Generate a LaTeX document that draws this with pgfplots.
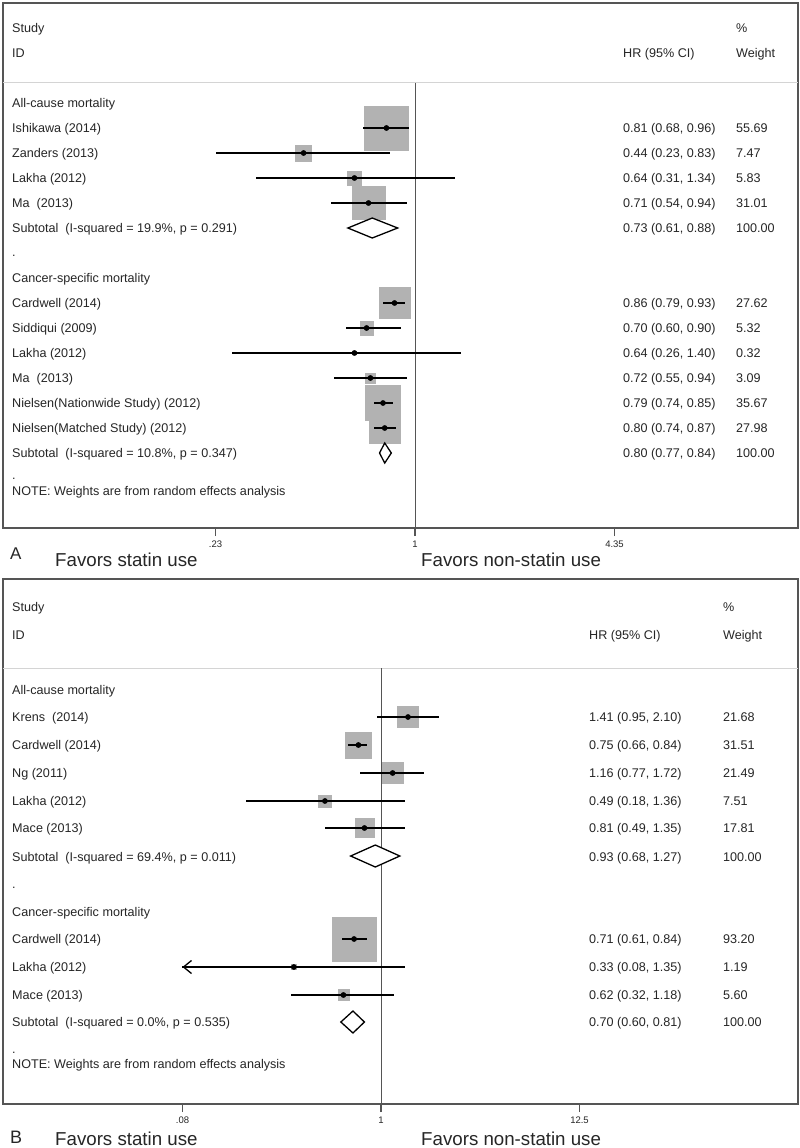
\documentclass[border=0pt]{standalone}
\usepackage{pgfplots}
\pgfplotsset{compat=1.18}
\usepackage{pgfplotstable}
\usepackage{fontspec}
\setmainfont{Liberation Sans}
\usetikzlibrary{arrows.meta}
\definecolor{boxgray}{RGB}{178,178,178}
\definecolor{frame}{RGB}{85,85,85}
\definecolor{sepgray}{RGB}{212,212,212}
\definecolor{txt}{RGB}{38,38,38}
\newcommand\fs{\fontsize{12.6}{15}\selectfont}
\newcommand\tickfont{\fontsize{9.5}{10}\selectfont}
\newcommand\bigfont{\fontsize{18.7}{22}\selectfont}
% text at pixel column x, baseline y
\newcommand\T[3]{\node[anchor=base west, inner sep=0pt, font=\fs, text=txt] at (#1pt,-#2pt) {#3};}

% Panel A: y (row position), HR, lower, upper, weight
\pgfplotstableread{
y hr lo hi w
-128 0.81 0.68 0.96 55.69
-153 0.44 0.23 0.83 7.47
-178 0.64 0.31 1.34 5.83
-203 0.71 0.54 0.94 31.01
-303 0.86 0.79 0.93 27.62
-328 0.70 0.60 0.90 5.32
-353 0.64 0.26 1.40 0.32
-378 0.72 0.55 0.94 3.09
-403 0.79 0.74 0.85 35.67
-428 0.80 0.74 0.87 27.98
}\studiesA

% Panel B
\pgfplotstableread{
y hr lo hi w
-717 1.41 0.95 2.10 21.68
-745 0.75 0.66 0.84 31.51
-773 1.16 0.77 1.72 21.49
-801 0.49 0.18 1.36 7.51
-828 0.81 0.49 1.35 17.81
-939 0.71 0.61 0.84 93.20
-967 0.33 0.08 1.35 1.19
-995 0.62 0.32 1.18 5.60
}\studiesB

\begin{document}
\begin{tikzpicture}
\useasboundingbox (0,0) rectangle (800pt,-1148pt);
\fill[white] (0,0) rectangle (800pt,-1148pt);

% ---------------- Panel A ----------------
\begin{axis}[at={(3pt,-3pt)}, anchor=north west,
  scale only axis, width=795pt, height=525pt,
  xmode=log, clip=false, clip marker paths=true,
  xmin=0.04802, xmax=16.817, ymin=-528, ymax=-3,
  axis line style={draw=frame, line width=1.3pt},
  ytick=\empty, minor xtick={},
  xtick pos=left, xtick align=outside, major tick length=8pt,
  every tick/.style={draw=frame, line width=1.2pt},
  xticklabel style={font=\tickfont, text=txt, yshift=-1pt},
  xtick={0.23,1,4.35}, xticklabels={.23,1,4.35}]
\addplot[sepgray, line width=1pt] coordinates {(0.04802,-83) (16.817,-83)};
\addplot[scatter, only marks, mark=square*,
  scatter/use mapped color={draw=boxgray, fill=boxgray},
  visualization depends on={2.95*sqrt(\thisrow{w}) \as \msize},
  scatter/@pre marker code/.append style={/tikz/mark size=\msize}]
  table[x=hr, y=y] {\studiesA};
\addplot[frame, line width=0.9pt] coordinates {(1,-83) (1,-528)};
\addplot[draw=none, mark=none, error bars/.cd, x dir=both, x explicit, error mark=none,
  error bar style={line width=1.3pt, black}]
  table[x=hr, y=y, x error minus expr=\thisrow{hr}-\thisrow{lo},
        x error plus expr=\thisrow{hi}-\thisrow{hr}] {\studiesA};
\addplot[only marks, mark=*, mark size=2.6pt, black] table[x=hr, y=y] {\studiesA};
\addplot[black, line width=1.3pt, fill=white] coordinates {(0.61,-228) (0.73,-218) (0.88,-228) (0.73,-238)} -- cycle;
\addplot[black, line width=1.3pt, fill=white] coordinates {(0.77,-453) (0.80,-443) (0.84,-453) (0.80,-463)} -- cycle;
\end{axis}

% ---------------- Panel B ----------------
\begin{axis}[at={(3pt,-579pt)}, anchor=north west,
  scale only axis, width=795pt, height=525pt,
  xmode=log, clip=false, clip marker paths=true,
  xmin=0.008154, xmax=201.40, ymin=-1104, ymax=-579,
  axis line style={draw=frame, line width=1.3pt},
  ytick=\empty, minor xtick={},
  xtick pos=left, xtick align=outside, major tick length=8pt,
  every tick/.style={draw=frame, line width=1.2pt},
  xticklabel style={font=\tickfont, text=txt, yshift=-1pt},
  xtick={0.08,1,12.5}, xticklabels={.08,1,12.5}]
\addplot[sepgray, line width=1pt] coordinates {(0.008154,-668) (201.40,-668)};
\addplot[scatter, only marks, mark=square*,
  scatter/use mapped color={draw=boxgray, fill=boxgray},
  visualization depends on={2.28*sqrt(\thisrow{w}) \as \msize},
  scatter/@pre marker code/.append style={/tikz/mark size=\msize}]
  table[x=hr, y=y] {\studiesB};
\addplot[frame, line width=0.9pt] coordinates {(1,-668) (1,-1104)};
\addplot[draw=none, mark=none, error bars/.cd, x dir=both, x explicit, error mark=none,
  error bar style={line width=1.3pt, black}]
  table[x=hr, y=y, x error minus expr=\thisrow{hr}-\thisrow{lo},
        x error plus expr=\thisrow{hi}-\thisrow{hr}] {\studiesB};
\addplot[black, line width=1.3pt, -{Straight Barb[length=8pt, width=13pt, line width=1.3pt]}]
  coordinates {(0.20,-967) (0.08,-967)};
\addplot[only marks, mark=*, mark size=2.6pt, black] table[x=hr, y=y] {\studiesB};
\addplot[black, line width=1.3pt, fill=white] coordinates {(0.68,-856) (0.93,-845) (1.27,-856) (0.93,-867)} -- cycle;
\addplot[black, line width=1.3pt, fill=white] coordinates {(0.60,-1022) (0.70,-1011) (0.81,-1022) (0.70,-1033)} -- cycle;
\end{axis}

% tick marks below each panel frame
\foreach \tx in {215.6,415,614.5} {\draw[frame, line width=1.2pt] (\tx pt,-528pt) -- (\tx pt,-536pt);}
\foreach \tx in {182.5,381,579.5} {\draw[frame, line width=1.2pt] (\tx pt,-1104pt) -- (\tx pt,-1112pt);}

% ---------------- Text, panel A ----------------
\T{12}{32.5}{Study}
\T{12}{57.5}{ID}
\T{736}{32.5}{\%}
\T{623}{57.5}{HR (95\% CI)}
\T{736}{57.5}{Weight}
\T{12}{107.5}{All-cause mortality}
\T{12}{132.5}{Ishikawa (2014)}       \T{623}{132.5}{0.81 (0.68, 0.96)} \T{736}{132.5}{55.69}
\T{12}{157.5}{Zanders (2013)}        \T{623}{157.5}{0.44 (0.23, 0.83)} \T{736}{157.5}{7.47}
\T{12}{182.5}{Lakha (2012)}          \T{623}{182.5}{0.64 (0.31, 1.34)} \T{736}{182.5}{5.83}
\T{12}{207.5}{Ma\ \ (2013)}          \T{623}{207.5}{0.71 (0.54, 0.94)} \T{736}{207.5}{31.01}
\T{12}{232.5}{Subtotal\ \ (I-squared = 19.9\%, p = 0.291)} \T{623}{232.5}{0.73 (0.61, 0.88)} \T{736}{232.5}{100.00}
\T{12}{256}{.}
\T{12}{282.5}{Cancer-specific mortality}
\T{12}{307.5}{Cardwell (2014)}       \T{623}{307.5}{0.86 (0.79, 0.93)} \T{736}{307.5}{27.62}
\T{12}{332.5}{Siddiqui (2009)}       \T{623}{332.5}{0.70 (0.60, 0.90)} \T{736}{332.5}{5.32}
\T{12}{357.5}{Lakha (2012)}          \T{623}{357.5}{0.64 (0.26, 1.40)} \T{736}{357.5}{0.32}
\T{12}{382.5}{Ma\ \ (2013)}          \T{623}{382.5}{0.72 (0.55, 0.94)} \T{736}{382.5}{3.09}
\T{12}{407.5}{Nielsen(Nationwide Study) (2012)} \T{623}{407.5}{0.79 (0.74, 0.85)} \T{736}{407.5}{35.67}
\T{12}{432.5}{Nielsen(Matched Study) (2012)}    \T{623}{432.5}{0.80 (0.74, 0.87)} \T{736}{432.5}{27.98}
\T{12}{457.5}{Subtotal\ \ (I-squared = 10.8\%, p = 0.347)} \T{623}{457.5}{0.80 (0.77, 0.84)} \T{736}{457.5}{100.00}
\T{12}{479}{.}
\T{12}{495.5}{NOTE: Weights are from random effects analysis}
\node[anchor=base west, inner sep=0pt, font=\fontsize{17}{20}\selectfont, text=txt] at (10pt,-559pt) {A};
\node[anchor=base west, inner sep=0pt, font=\bigfont, text=txt] at (55pt,-566pt) {Favors statin use};
\node[anchor=base west, inner sep=0pt, font=\bigfont, text=txt] at (421pt,-566pt) {Favors non-statin use};

% ---------------- Text, panel B ----------------
\T{12}{611.5}{Study}
\T{12}{639.5}{ID}
\T{723}{611.5}{\%}
\T{589}{639.5}{HR (95\% CI)}
\T{723}{639.5}{Weight}
\T{12}{694.5}{All-cause mortality}
\T{12}{721.5}{Krens\ \ (2014)}       \T{589}{721.5}{1.41 (0.95, 2.10)} \T{723}{721.5}{21.68}
\T{12}{749.5}{Cardwell (2014)}       \T{589}{749.5}{0.75 (0.66, 0.84)} \T{723}{749.5}{31.51}
\T{12}{777.5}{Ng (2011)}             \T{589}{777.5}{1.16 (0.77, 1.72)} \T{723}{777.5}{21.49}
\T{12}{805.5}{Lakha (2012)}          \T{589}{805.5}{0.49 (0.18, 1.36)} \T{723}{805.5}{7.51}
\T{12}{832.5}{Mace (2013)}           \T{589}{832.5}{0.81 (0.49, 1.35)} \T{723}{832.5}{17.81}
\T{12}{861}{Subtotal\ \ (I-squared = 69.4\%, p = 0.011)} \T{589}{861}{0.93 (0.68, 1.27)} \T{723}{861}{100.00}
\T{12}{888}{.}
\T{12}{916.5}{Cancer-specific mortality}
\T{12}{943.5}{Cardwell (2014)}       \T{589}{943.5}{0.71 (0.61, 0.84)} \T{723}{943.5}{93.20}
\T{12}{971.5}{Lakha (2012)}          \T{589}{971.5}{0.33 (0.08, 1.35)} \T{723}{971.5}{1.19}
\T{12}{999.5}{Mace (2013)}           \T{589}{999.5}{0.62 (0.32, 1.18)} \T{723}{999.5}{5.60}
\T{12}{1026.5}{Subtotal\ \ (I-squared = 0.0\%, p = 0.535)} \T{589}{1026.5}{0.70 (0.60, 0.81)} \T{723}{1026.5}{100.00}
\T{12}{1053}{.}
\T{12}{1068.5}{NOTE: Weights are from random effects analysis}
\node[anchor=base west, inner sep=0pt, font=\fontsize{18}{20}\selectfont, text=txt] at (10pt,-1143pt) {B};
\node[anchor=base west, inner sep=0pt, font=\bigfont, text=txt] at (55pt,-1145pt) {Favors statin use};
\node[anchor=base west, inner sep=0pt, font=\bigfont, text=txt] at (421pt,-1145pt) {Favors non-statin use};
\end{tikzpicture}
\end{document}
